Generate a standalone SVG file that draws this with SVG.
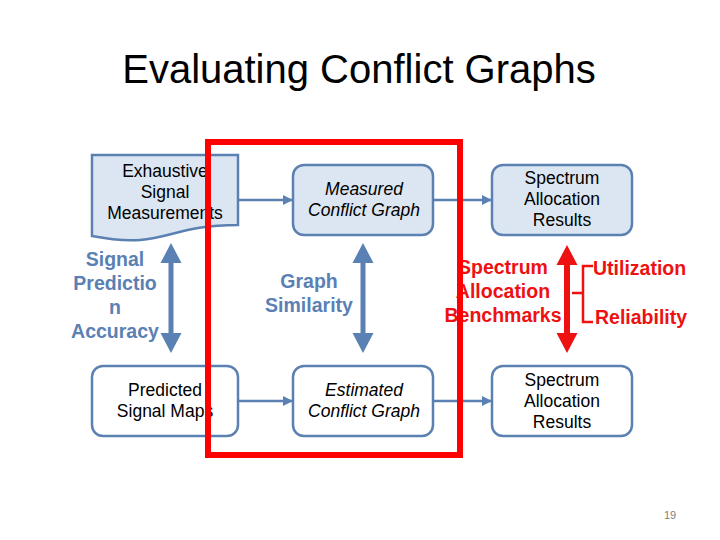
<svg xmlns="http://www.w3.org/2000/svg" width="720" height="540" viewBox="0 0 720 540">
<style>
.box{fill:#dce6f2;stroke:#5b80b2;stroke-width:2.5}
.wbox{fill:#ffffff;stroke:#5b80b2;stroke-width:2.5}
.t{font-family:"Liberation Sans",Arial,sans-serif;font-size:17.5px;fill:#000;text-anchor:middle}
.i{font-style:italic}
.bl{font-family:"Liberation Sans",Arial,sans-serif;font-size:19.5px;font-weight:bold;fill:#5a80b4;text-anchor:middle}
.rd{font-family:"Liberation Sans",Arial,sans-serif;font-size:19.5px;font-weight:bold;fill:#ee1111}
.con{stroke:#5b80b2;stroke-width:2.5;fill:none;marker-end:url(#ah)}
</style>
<defs>
<marker id="ah" viewBox="0 0 10 10" refX="9" refY="5" markerWidth="4" markerHeight="4" orient="auto" markerUnits="strokeWidth">
<path d="M0,0 L10,5 L0,10 Z" fill="#5b80b2"/>
</marker>
</defs>
<rect width="720" height="540" fill="#ffffff"/>
<text x="359" y="83" style="font-family:'Liberation Sans',Arial,sans-serif;font-size:40px;fill:#000;text-anchor:middle">Evaluating Conflict Graphs</text>

<g id="connectors">
<line class="con" x1="238" y1="200" x2="292" y2="200"/>
<line class="con" x1="433" y1="200" x2="491" y2="200"/>
<line class="con" x1="238" y1="401" x2="292" y2="401"/>
<line class="con" x1="433" y1="401" x2="491" y2="401"/>
<polygon id="arrow-signal" fill="#5a80b4" points="171,243 181.5,263 173.5,263 173.5,333 181.5,333 171,353 160.5,333 168.5,333 168.5,263 160.5,263"/>
<polygon id="arrow-graph" fill="#5a80b4" points="363,243 373.5,263 365.5,263 365.5,333 373.5,333 363,353 352.5,333 360.5,333 360.5,263 352.5,263"/>
<polygon id="arrow-bench" fill="#ee1111" points="567,245 577.5,265 570,265 570,333 577.5,333 567,353 556.5,333 564,333 564,265 556.5,265"/>
<path id="bracket" d="M572,293 L583,293 M593,266 L583,266 L583,322 L593,322" stroke="#ee1111" stroke-width="2.5" fill="none"/>
</g>

<g id="exhaustive">
<path class="box" d="M92,155 L238,155 L238,225 C165,225 165,250 92,236 Z"/>
<text class="t" x="165" y="177">Exhaustive</text>
<text class="t" x="165" y="198">Signal</text>
<text class="t" x="165" y="219">Measurements</text>
</g>
<g id="measured">
<rect class="box" x="293" y="165" width="140" height="70" rx="11"/>
<text class="t i" x="364" y="195">Measured</text>
<text class="t i" x="364" y="216">Conflict Graph</text>
</g>
<g id="results-top">
<rect class="box" x="492" y="165" width="140" height="70" rx="11"/>
<text class="t" x="562" y="184">Spectrum</text>
<text class="t" x="562" y="205">Allocation</text>
<text class="t" x="562" y="226">Results</text>
</g>
<g id="predicted">
<rect class="wbox" x="92" y="366" width="146" height="70" rx="11"/>
<text class="t" x="165" y="396">Predicted</text>
<text class="t" x="165" y="417">Signal Maps</text>
</g>
<g id="estimated">
<rect class="wbox" x="293" y="366" width="140" height="70" rx="11"/>
<text class="t i" x="364" y="396">Estimated</text>
<text class="t i" x="364" y="417">Conflict Graph</text>
</g>
<g id="results-bottom">
<rect class="wbox" x="492" y="366" width="140" height="70" rx="11"/>
<text class="t" x="562" y="386">Spectrum</text>
<text class="t" x="562" y="407">Allocation</text>
<text class="t" x="562" y="428">Results</text>
</g>

<g id="signal-label">
<text class="bl" x="115" y="266">Signal</text>
<text class="bl" x="115" y="290">Predictio</text>
<text class="bl" x="115" y="314">n</text>
<text class="bl" x="115" y="338">Accuracy</text>
</g>
<g id="graph-label">
<text class="bl" x="309" y="288">Graph</text>
<text class="bl" x="309" y="312">Similarity</text>
</g>
<g id="bench-label">
<text class="rd" x="503" y="274" text-anchor="middle">Spectrum</text>
<text class="rd" x="503" y="298" text-anchor="middle">Allocation</text>
<text class="rd" x="503" y="322" text-anchor="middle">Benchmarks</text>
<text class="rd" x="593" y="275">Utilization</text>
<text class="rd" x="595" y="324">Reliability</text>
</g>

<rect id="highlight" x="208" y="142" width="252" height="313" fill="none" stroke="#ff0000" stroke-width="6"/>

<text x="670" y="519" style="font-family:'Liberation Sans',Arial,sans-serif;font-size:11px;fill:#808080;text-anchor:middle">19</text>
</svg>
